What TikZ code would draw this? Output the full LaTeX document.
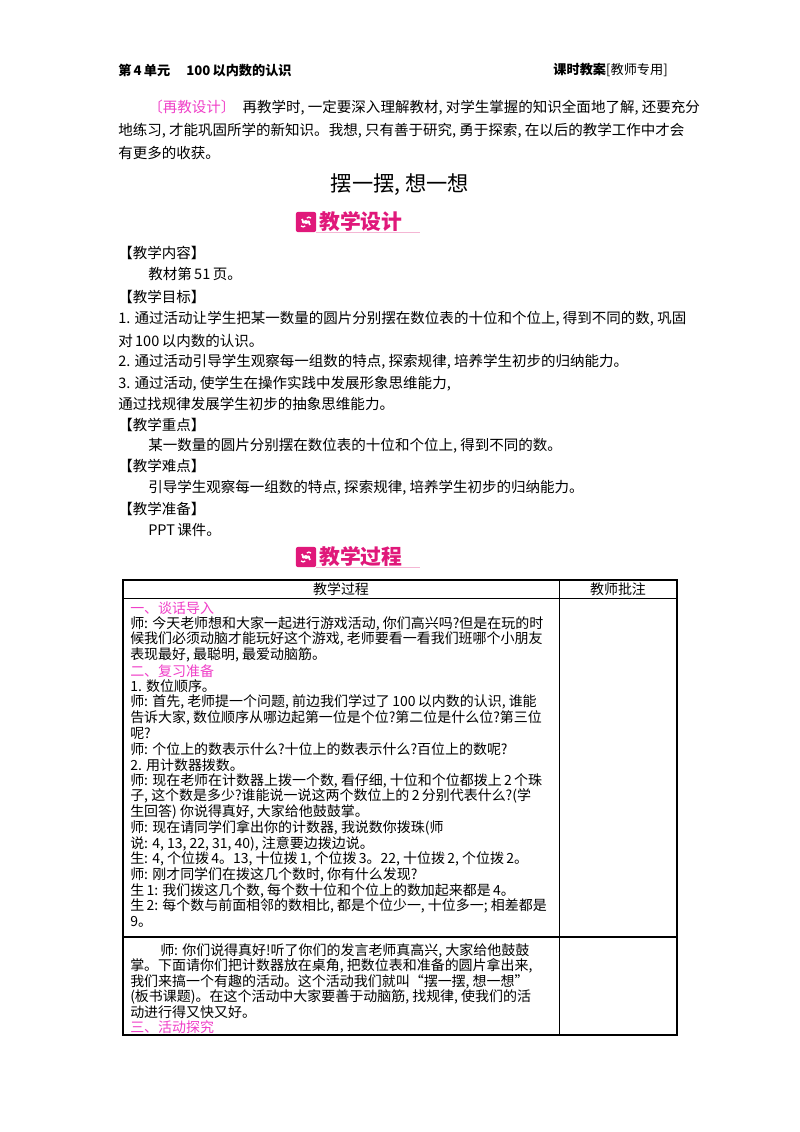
\documentclass[tikz,border=0pt]{standalone}
\usepackage{fontspec}
\setmainfont{Noto Sans CJK SC}
\definecolor{rp}{HTML}{F040C8}
\definecolor{bp}{HTML}{E0187A}
\definecolor{lp}{HTML}{F4B6D4}
\newcounter{ln}
\newcommand\Ln[3]{\stepcounter{ln}\node[txt] (l\theln) at (#1,#2) {#3};}
\newcommand\Banner[3]{%
  \node[fill=bp,rounded corners=1.5pt,minimum size=15pt,inner sep=0] (#3i) at (306,#2) {};
  \draw[white,line width=1.3pt] (#3i.center) ++(-4,-3) arc (180:30:4);
  \draw[white,line width=1.3pt] (#3i.center) ++(4,3) arc (0:-150:4);
  \draw[white,line width=1pt] (#3i.center) ++(-5,4) arc (135:45:3);
  \draw[white,line width=1pt] (#3i.center) ++(5,-4) arc (-45:-135:3);
  \node[anchor=west,inner sep=0,text=bp,font=\fontsize{15.5}{17}\selectfont\bfseries] (#3t) at (319,#2) {#1};
  \draw[lp,line width=1.2pt] (#3i.south east) -- ++(104,0) coordinate (#3e);
}
\begin{document}
\begin{tikzpicture}[x=0.7441pt,y=-0.7441pt,
  txt/.style={anchor=west,inner sep=0,font=\fontsize{10.4}{12}\selectfont},
  pg/.style={txt,font=\fontsize{10.8}{12}\selectfont},
  mg/.style={text=rp}]
\useasboundingbox[fill=white] (0,0) rectangle (800,1132);
% header
\node[anchor=west,inner sep=0,font=\fontsize{9.8}{11}\selectfont\bfseries] (h1) at (118,70) {第\,4\,单元\quad\ 100\,以内数的认识};
\node[anchor=east,inner sep=0,font=\fontsize{9.8}{11}\selectfont] (h2) at (668,70) {\textbf{课时教案}[教师专用]};
% intro paragraph
\node[pg] (p1) at (148,108) {{\color{rp}〔再教设计〕}\enspace 再教学时, 一定要深入理解教材, 对学生掌握的知识全面地了解, 还要充分};
\node[pg] (p2) at (118,131) {地练习, 才能巩固所学的新知识。我想, 只有善于研究, 勇于探索, 在以后的教学工作中才会};
\node[pg] (p3) at (118,153) {有更多的收获。};
\node[inner sep=0,font=\fontsize{15.8}{17}\selectfont] (title) at (400,185) {摆一摆, 想一想};
\Banner{教学设计}{222}{b1}
\node[pg] (q1) at (118,253) {【教学内容】};
\node[pg] (q2) at (148,274) {教材第\,51\,页。};
\node[pg] (q3) at (118,297) {【教学目标】};
\node[pg] (q4) at (118,319) {1. 通过活动让学生把某一数量的圆片分别摆在数位表的十位和个位上, 得到不同的数, 巩固};
\node[pg] (q5) at (118,341) {对\,100\,以内数的认识。};
\node[pg] (q6) at (118,362) {2. 通过活动引导学生观察每一组数的特点, 探索规律, 培养学生初步的归纳能力。};
\node[pg] (q7) at (118,384) {3. 通过活动, 使学生在操作实践中发展形象思维能力,};
\node[pg] (q8) at (118,404) {通过找规律发展学生初步的抽象思维能力。};
\node[pg] (q9) at (118,425) {【教学重点】};
\node[pg] (q10) at (148,446) {某一数量的圆片分别摆在数位表的十位和个位上, 得到不同的数。};
\node[pg] (q11) at (118,466) {【教学难点】};
\node[pg] (q12) at (148,488) {引导学生观察每一组数的特点, 探索规律, 培养学生初步的归纳能力。};
\node[pg] (q13) at (118,509) {【教学准备】};
\node[pg] (q14) at (148,530) {PPT\,课件。};
\Banner{教学过程}{557}{b2}
% table
\draw[line width=0.9pt] (123,580) rectangle (677,1035);
\draw[line width=0.7pt] (123,598) -- (677,598);
\draw[line width=0.7pt] (559,580) -- (559,1035);
\draw[line width=0.9pt] (123,937) -- (677,937);
\node[inner sep=0,font=\fontsize{10.4}{12}\selectfont] (th1) at (341,589) {教学过程};
\node[inner sep=0,font=\fontsize{10.4}{12}\selectfont] (th2) at (618,589) {教师批注};
\Ln{130}{608}{\color{rp}一、谈话导入}
\Ln{130}{623.7}{师: 今天老师想和大家一起进行游戏活动, 你们高兴吗?但是在玩的时}
\Ln{130}{639.4}{候我们必须动脑才能玩好这个游戏, 老师要看一看我们班哪个小朋友}
\Ln{130}{655.1}{表现最好, 最聪明, 最爱动脑筋。}
\Ln{130}{670.8}{\color{rp}二、复习准备}
\Ln{130}{686.5}{1. 数位顺序。}
\Ln{130}{702.2}{师: 首先, 老师提一个问题, 前边我们学过了\,100\,以内数的认识, 谁能}
\Ln{130}{717.9}{告诉大家, 数位顺序从哪边起第一位是个位?第二位是什么位?第三位}
\Ln{130}{733.6}{呢?}
\Ln{130}{749.3}{师: 个位上的数表示什么?十位上的数表示什么?百位上的数呢?}
\Ln{130}{765}{2. 用计数器拨数。}
\Ln{130}{780.7}{师: 现在老师在计数器上拨一个数, 看仔细, 十位和个位都拨上\,2\,个珠}
\Ln{130}{796.4}{子, 这个数是多少?谁能说一说这两个数位上的\,2\,分别代表什么?(学}
\Ln{130}{812.1}{生回答) 你说得真好, 大家给他鼓鼓掌。}
\Ln{130}{827.8}{师: 现在请同学们拿出你的计数器, 我说数你拨珠(师}
\Ln{130}{843.5}{说: 4, 13, 22, 31, 40), 注意要边拨边说。}
\Ln{130}{859.2}{生: 4, 个位拨\,4。13, 十位拨\,1, 个位拨\,3。22, 十位拨\,2, 个位拨\,2。}
\Ln{130}{874.9}{师: 刚才同学们在拨这几个数时, 你有什么发现?}
\Ln{130}{890.6}{生\,1: 我们拨这几个数, 每个数十位和个位上的数加起来都是\,4。}
\Ln{130}{906.3}{生\,2: 每个数与前面相邻的数相比, 都是个位少一, 十位多一; 相差都是}
\Ln{130}{922}{9。}
\Ln{160}{951}{师: 你们说得真好!听了你们的发言老师真高兴, 大家给他鼓鼓}
\Ln{130}{966.3}{掌。下面请你们把计数器放在桌角, 把数位表和准备的圆片拿出来,}
\Ln{130}{981.6}{我们来搞一个有趣的活动。这个活动我们就叫“摆一摆, 想一想”}
\Ln{130}{996.9}{(板书课题)。在这个活动中大家要善于动脑筋, 找规律, 使我们的活}
\Ln{130}{1012.2}{动进行得又快又好。}
\Ln{130}{1027.5}{\color{rp}三、活动探究}
\end{tikzpicture}
\end{document}
